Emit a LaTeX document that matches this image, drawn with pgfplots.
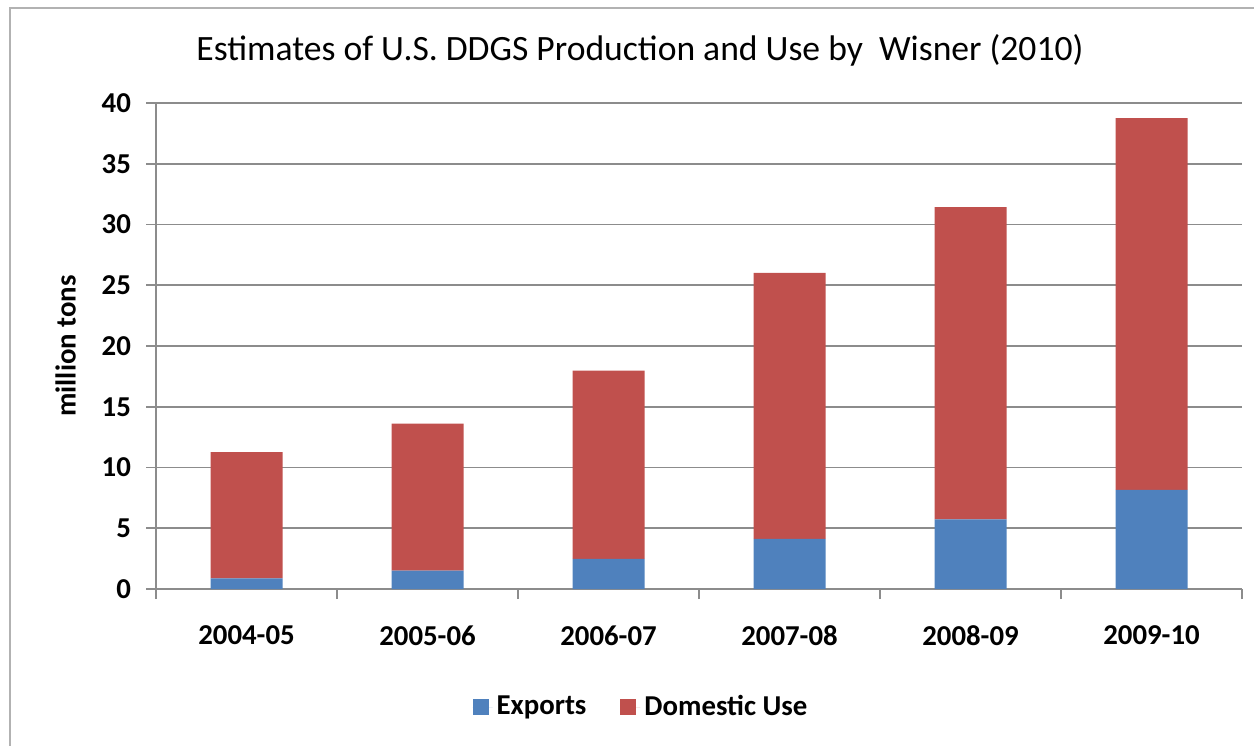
\documentclass[border=0pt]{standalone}
\usepackage{pgfplots}
\pgfplotsset{compat=1.18}
\usepackage{fontspec}
\setmainfont{Carlito}
\definecolor{expblue}{HTML}{4F81BD}
\definecolor{domred}{HTML}{C0504D}
\definecolor{gridgray}{HTML}{8C8C8C}
\begin{document}
\begin{tikzpicture}
\useasboundingbox (0,0) rectangle (627pt,372.5pt);
\draw[gray!60, line width=0.8pt] (5pt,-2pt) -- (5pt,368.5pt) -- (630pt,368.5pt);
\begin{axis}[
  at={(78pt,78pt)}, anchor=south west,
  scale only axis, width=543pt, height=243pt,
  ybar stacked, bar width=36pt,
  xmin=-0.5, xmax=5.5, ymin=0, ymax=40,
  xtick={0,...,5},
  xticklabels={2004-05,2005-06,2006-07,2007-08,2008-09,2009-10},
  minor xtick={-0.5,0.5,...,5.5},
  ytick={0,5,...,40},
  major x tick style={draw=none},
  minor x tick style={gridgray, line width=0.8pt},
  minor tick length=5pt,
  major tick length=5pt,
  tick align=outside,
  y tick style={gridgray, line width=0.8pt},
  ymajorgrids, grid style={gridgray, line width=0.8pt},
  axis x line*=bottom, axis y line*=left,
  axis line style={gridgray, line width=0.8pt, -},
  /pgf/number format/assume math mode=true,
  tick label style={font=\fontsize{14.4}{17}\selectfont\bfseries},
  xticklabel style={yshift=-10pt},
  yticklabel style={xshift=-4pt},
  ylabel={million tons},
  ylabel style={at={(axis description cs:-0.0833,0.5)}, anchor=center, font=\fontsize{14.4}{17}\selectfont\bfseries},
  every axis title shift=0pt,
  title={Estimates of U.S. DDGS Production and Use by\ \ Wisner (2010)},
  title style={at={(axis description cs:0.4457,1.108)}, anchor=center, font=\fontsize{17.8}{20}\selectfont},
  legend style={at={(axis description cs:0.4475,-0.243)}, anchor=center, draw=none, legend columns=2,
    font=\fontsize{14.4}{17}\selectfont\bfseries, /tikz/every even column/.append style={column sep=15pt}},
  legend image code/.code={\path (0pt,0pt) -- (10pt,0pt); \fill[#1] (0pt,-4pt) rectangle (8pt,4pt);},
]
\addplot[fill=expblue, draw=none] coordinates {(0,0.87) (1,1.51) (2,2.47) (3,4.12) (4,5.74) (5,8.16)};
\addplot[fill=domred, draw=none] coordinates {(0,10.4) (1,12.1) (2,15.5) (3,21.9) (4,25.7) (5,30.6)};
\legend{Exports, Domestic Use}
\end{axis}
\end{tikzpicture}
\end{document}
